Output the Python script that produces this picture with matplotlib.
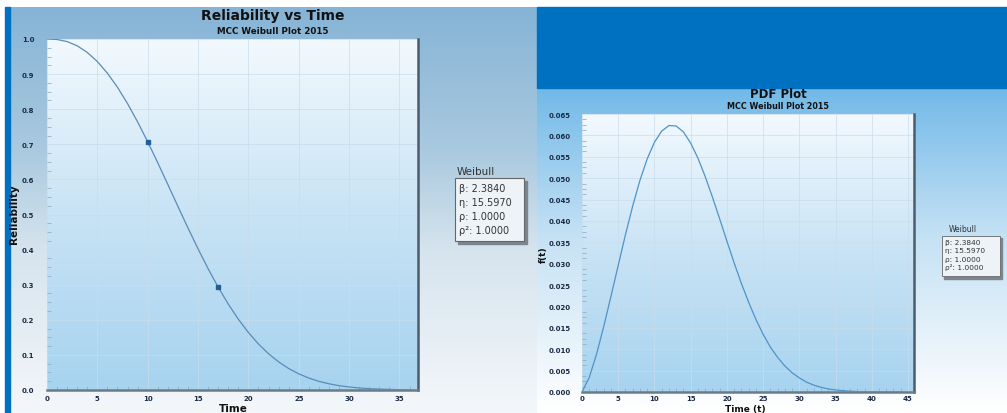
import matplotlib.pyplot as plt
import numpy as np
from matplotlib.patches import Rectangle
from matplotlib.ticker import MultipleLocator

W, H = 1007, 414

# reliability curve
time_r = list(range(0, 37))
reliability = [1.000, 0.9986, 0.9926, 0.9806, 0.9617, 0.9358, 0.9026, 0.8624,
               0.8158, 0.7637, 0.7071, 0.6473, 0.5855, 0.5232, 0.4616, 0.4021,
               0.3455, 0.2929, 0.2448, 0.2017, 0.1638, 0.1310, 0.1033, 0.0801,
               0.0612, 0.0460, 0.0340, 0.0247, 0.0177, 0.0124, 0.0086, 0.0058,
               0.0039, 0.0026, 0.0017, 0.0010, 0.0007]
point_t = [10, 17]
point_r = [0.707, 0.293]

# pdf curve
time_f = list(range(0, 45))
pdf = [0.0, 0.0034, 0.0088, 0.0153, 0.0224, 0.0296, 0.0368, 0.0435, 0.0495,
       0.0545, 0.0584, 0.0610, 0.0623, 0.0622, 0.0608, 0.0582, 0.0547, 0.0504,
       0.0456, 0.0405, 0.0353, 0.0302, 0.0254, 0.0210, 0.0170, 0.0135, 0.0105,
       0.0081, 0.0061, 0.0045, 0.0033, 0.0023, 0.0016, 0.0011, 0.0007, 0.0005,
       0.0003, 0.0002, 0.0001, 0.0001, 0.0, 0.0, 0.0, 0.0, 0.0]

legend_title = "Weibull"
legend_lines = ["β: 2.3840", "η: 15.5970", "ρ: 1.0000", "ρ²: 1.0000"]

navy = '#1b2b45'


def px_box(l, t, r, b):
    return [l / W, 1 - b / H, (r - l) / W, (b - t) / H]


def hex2rgb(c):
    c = c.lstrip('#')
    return [int(c[i:i + 2], 16) / 255 for i in (0, 2, 4)]


def vgrad(stops, n=200):
    pos = [s[0] for s in stops]
    cols = np.array([hex2rgb(s[1]) for s in stops])
    y = np.linspace(0, 1, n)
    arr = np.stack([np.interp(y, pos, cols[:, k]) for k in range(3)], axis=-1)
    return arr[:, None, :]


fig = plt.figure(figsize=(W / 100, H / 100), dpi=100)
fig.patch.set_facecolor('white')

# background in pixel coordinates
bg = fig.add_axes([0, 0, 1, 1], zorder=-5)
bg.set_xlim(0, W); bg.set_ylim(H, 0); bg.axis('off')
bg.imshow(vgrad([(0, '#86b4d6'), (0.35, '#a9c9df'), (0.6, '#d6e4ee'), (1, '#f4f7fa')]),
          extent=[10, 537, H, 8], aspect='auto')
bg.add_patch(Rectangle((5, 8), 5, H - 8, color='#0070c0'))
bg.add_patch(Rectangle((537, 8), W - 537, 81, color='#0070c0'))
bg.imshow(vgrad([(0, '#72b9e8'), (0.45, '#c4e1f4'), (1, '#ffffff')]),
          extent=[537, W, H, 89], aspect='auto')
bg.set_xlim(0, W); bg.set_ylim(H, 0)

# legends
bg.text(457, 172, legend_title, fontsize=7.5, color='#333333', va='center')
bg.add_patch(Rectangle((458, 182), 69, 63, color='#7a8590'))
bg.add_patch(Rectangle((455, 179), 69, 63, facecolor='#eef3f7', edgecolor='#666666', lw=0.8))
for i, s in enumerate(legend_lines):
    bg.text(459, 189 + i * 14, s, fontsize=7, color='#333333', va='center')

bg.text(949, 230, legend_title, fontsize=5.5, color='#333333', va='center')
bg.add_patch(Rectangle((944, 239), 58, 41, color='#7a8590'))
bg.add_patch(Rectangle((942, 237), 58, 40, facecolor='#eef3f7', edgecolor='#666666', lw=0.6))
for i, s in enumerate(legend_lines):
    bg.text(945, 243 + i * 8.3, s, fontsize=5.3, color='#333333', va='center')

# titles and labels
bg.text(273, 16, "Reliability vs Time", fontsize=10, weight='bold', color='#111111', ha='center', va='center')
bg.text(273, 31, "MCC Weibull Plot 2015", fontsize=6.3, weight='bold', color='#111111', ha='center', va='center')
bg.text(233, 409, "Time", fontsize=7.5, weight='bold', color='#111111', ha='center', va='center')
bg.text(14, 214, "Reliability", fontsize=7.5, weight='bold', color='#111111', ha='center', va='center', rotation=90)

bg.text(778, 95, "PDF Plot", fontsize=8.5, weight='bold', color='#111111', ha='center', va='center')
bg.text(778, 107, "MCC Weibull Plot 2015", fontsize=5.8, weight='bold', color='#111111', ha='center', va='center')
bg.text(745, 409.5, "Time (t)", fontsize=6.5, weight='bold', color='#111111', ha='center', va='center')
bg.text(543, 255, "f(t)", fontsize=6.5, weight='bold', color='#111111', ha='center', va='center', rotation=90)


def style(ax, xmax, ymax, xmaj, ymaj, xmin, ymin, fmt, ypad, xpad):
    ax.imshow(vgrad([(0, '#f2f9fe'), (0.5, '#c8e3f5'), (1, '#a7d3ef')]),
              extent=[0, 1, 0, 1], transform=ax.transAxes, aspect='auto', zorder=0)
    ax.set_xlim(0, xmax); ax.set_ylim(0, ymax)
    ax.set_autoscale_on(False)
    ax.xaxis.set_major_locator(MultipleLocator(xmaj))
    ax.yaxis.set_major_locator(MultipleLocator(ymaj))
    ax.xaxis.set_minor_locator(MultipleLocator(xmin))
    ax.yaxis.set_minor_locator(MultipleLocator(ymin))
    ax.yaxis.set_major_formatter(fmt)
    ax.grid(True, which='major', color='#c9dceb', lw=0.6, alpha=0.8, zorder=1)
    ax.tick_params(which='major', length=0, labelsize=5, labelcolor=navy)
    ax.tick_params(axis='y', which='major', pad=ypad)
    ax.tick_params(axis='x', which='major', pad=xpad)
    ax.tick_params(which='minor', direction='in', length=3, color='#90b2cb', width=0.6)
    for lab in ax.get_xticklabels() + ax.get_yticklabels():
        lab.set_fontweight('bold')
    for s in ['top', 'left']:
        ax.spines[s].set_visible(False)
    ax.spines['bottom'].set_color('#6d7b86'); ax.spines['bottom'].set_linewidth(1.8)
    ax.spines['right'].set_color('#4d5c6a'); ax.spines['right'].set_linewidth(1.8)


ax1 = fig.add_axes(px_box(47, 40, 418, 391))
style(ax1, 36.84, 1.0, 5, 0.1, 1, 0.025, '{x:.1f}', 9, 3.5)
ax1.plot(time_r, reliability, color='#5a8cb6', lw=0.9, zorder=3)
ax1.plot(point_t, point_r, 's', color='#1f5f9a', ms=3.2, zorder=4)

ax2 = fig.add_axes(px_box(582, 115, 914, 393))
style(ax2, 45.83, 0.065, 5, 0.005, 1, 0.00125, '{x:.3f}', 8, 2)
ax2.plot(time_f, pdf, color='#4f93c7', lw=0.9, zorder=3)

fig.savefig('out.png', dpi=100)
